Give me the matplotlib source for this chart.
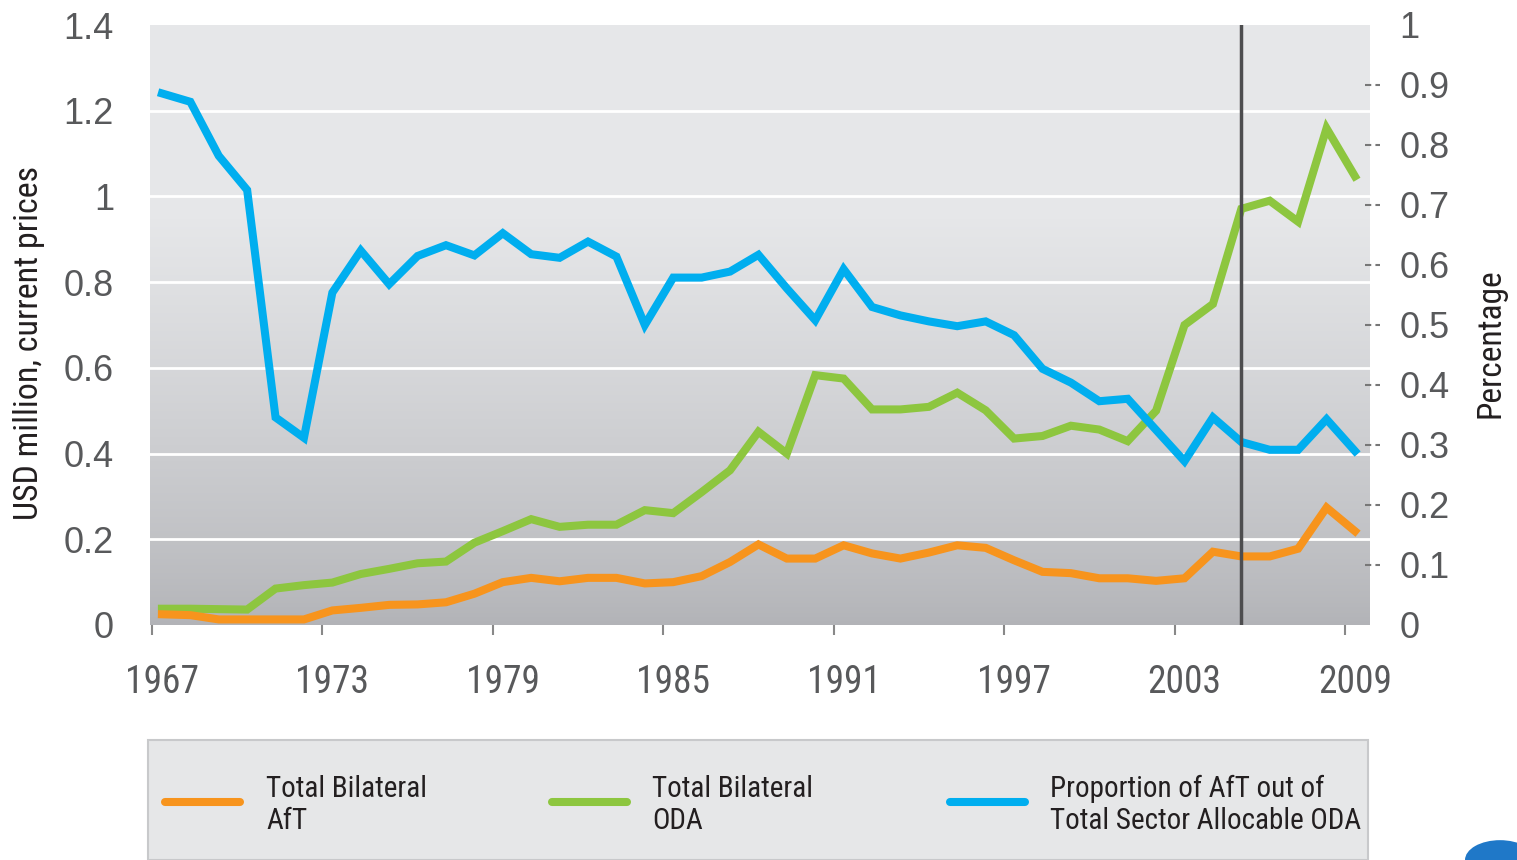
import matplotlib
matplotlib.use("Agg")
import matplotlib.pyplot as plt
from matplotlib import font_manager
from matplotlib.colors import to_rgb
from matplotlib.lines import Line2D
from matplotlib.patches import Rectangle, Circle
import numpy as np

# data
years = list(range(1967, 2010))
aft = [0.025, 0.023, 0.013, 0.013, 0.013, 0.013, 0.034, 0.040, 0.047, 0.048,
       0.053, 0.073, 0.100, 0.110, 0.102, 0.110, 0.110, 0.097, 0.100, 0.114,
       0.147, 0.188, 0.155, 0.155, 0.186, 0.167, 0.155, 0.169, 0.186, 0.180,
       0.151, 0.124, 0.121, 0.109, 0.109, 0.103, 0.109, 0.171, 0.160, 0.160,
       0.178, 0.274, 0.219]
oda = [0.038, 0.038, 0.037, 0.036, 0.085, 0.093, 0.099, 0.119, 0.131, 0.144,
       0.148, 0.192, 0.219, 0.247, 0.229, 0.234, 0.234, 0.268, 0.261, 0.310,
       0.361, 0.451, 0.400, 0.583, 0.575, 0.503, 0.503, 0.509, 0.542, 0.501,
       0.435, 0.441, 0.465, 0.456, 0.429, 0.500, 0.700, 0.749, 0.971, 0.990,
       0.941, 1.159, 1.047]
share = [0.886, 0.872, 0.782, 0.725, 0.346, 0.312, 0.554, 0.624, 0.568, 0.615,
         0.633, 0.616, 0.653, 0.618, 0.612, 0.639, 0.614, 0.500, 0.579, 0.579,
         0.589, 0.617, 0.561, 0.508, 0.593, 0.530, 0.516, 0.506, 0.498, 0.506,
         0.483, 0.427, 0.404, 0.373, 0.377, 0.325, 0.273, 0.346, 0.305, 0.292,
         0.292, 0.343, 0.290]
year_ticks = [1967, 1973, 1979, 1985, 1991, 1997, 2003, 2009]
left_ticks = [0, 0.2, 0.4, 0.6, 0.8, 1, 1.2, 1.4]
left_labels = ["0", "0.2", "0.4", "0.6", "0.8", "1", "1.2", "1.4"]
right_ticks = [0, 0.1, 0.2, 0.3, 0.4, 0.5, 0.6, 0.7, 0.8, 0.9, 1]
right_labels = ["0", "0.1", "0.2", "0.3", "0.4", "0.5", "0.6", "0.7", "0.8", "0.9", "1"]
marker_year = 2005
series_names = ["Total Bilateral\nAfT", "Total Bilateral\nODA",
                "Proportion of AfT out of\nTotal Sector Allocable ODA"]

ORANGE = "#f7941d"
GREEN = "#8dc63f"
BLUE = "#00aeef"
GREY_TXT = "#58595b"


def pick(names):
    for n in names:
        try:
            font_manager.findfont(n, fallback_to_default=False)
            return n
        except Exception:
            pass
    return "DejaVu Sans"


wide = pick(["Liberation Sans", "Arial"])
narrow = pick(["Liberation Sans Narrow", "Roboto Condensed", "Liberation Sans"])

W, H = 1517, 860
fig = plt.figure(figsize=(W / 100, H / 100), dpi=100)
fig.patch.set_facecolor("white")

ax = fig.add_axes([150 / W, (H - 625) / H, 1220 / W, 600 / H])
ax.set_xlim(1966.58, 2009.53)
ax.set_ylim(0, 1.4)

# grey background, darker towards the bottom
ys = np.linspace(0, 1.4, 300)
top = np.array(to_rgb("#e6e7e9"))
bot = np.array(to_rgb("#b2b3b7"))
t = np.clip(ys / 0.95, 0, 1) ** 0.8
grad = bot[None, :] * (1 - t[:, None]) + top[None, :] * t[:, None]
ax.imshow(grad[:, None, :], extent=[1966.58, 2009.53, 0, 1.4], origin="lower",
          aspect="auto", zorder=0)

for v in left_ticks[1:-1]:
    ax.axhline(v, color="white", lw=2, zorder=1)

ax.plot(years, oda, color=GREEN, lw=5.8, solid_joinstyle="miter", zorder=3)
ax.plot(years, aft, color=ORANGE, lw=5.8, solid_joinstyle="miter", zorder=3)

for s in ax.spines.values():
    s.set_visible(False)
ax.set_yticks(left_ticks)
ax.set_yticklabels(left_labels, fontsize=26, family=wide, color=GREY_TXT)
ax.tick_params(axis="y", length=0, pad=26)
ax.set_xticks(year_ticks)
ax.set_xticklabels([str(y) for y in year_ticks], fontsize=27,
                   family=narrow, color=GREY_TXT)
ax.tick_params(axis="x", length=0, pad=28)
ax.set_xticks([y - 0.35 for y in year_ticks], minor=True)
ax.tick_params(axis="x", which="minor", length=7, width=1.5, color="#888888",
               direction="out", pad=0)
ax.set_ylabel("USD million, current prices", fontsize=24.5,
              family=narrow, color="#231f20")
ax.yaxis.set_label_coords(-0.086, 0.47)

ax2 = ax.twinx()
ax2.set_ylim(0, 1)
ax2.plot(years, share, color=BLUE, lw=5.8, solid_joinstyle="miter", zorder=3)
ax2.axvline(marker_year, color="#4d4d4f", lw=2.5, zorder=5)
for s in ax2.spines.values():
    s.set_visible(False)
ax2.set_yticks(right_ticks)
ax2.set_yticklabels(right_labels, fontsize=26, family=wide, color=GREY_TXT)
ax2.tick_params(axis="y", length=0, pad=21)
for v in right_ticks[1:-1]:
    ax2.add_line(Line2D([0.996, 1.008], [v, v], transform=ax2.get_yaxis_transform(),
                        color="#777777", lw=1.5, dashes=(3, 2), clip_on=False))
ax2.set_ylabel("Percentage", fontsize=24, family=narrow, color="#231f20")
ax2.yaxis.set_label_coords(1.086, 0.47)

# legend box
fig.patches.append(Rectangle((148 / W, 0), 1220 / W, 120 / H, transform=fig.transFigure,
                             facecolor="#e6e7e8", edgecolor="#c8c9cb", lw=1.5))
legend_x = [(165, 266), (552, 652), (950, 1050)]
for (lx, tx), col, name in zip(legend_x, [ORANGE, GREEN, BLUE], series_names):
    fig.lines.append(Line2D([lx / W, (lx + 75) / W], [(H - 802) / H] * 2,
                            transform=fig.transFigure, color=col, lw=5.8,
                            solid_capstyle="round"))
    fig.text(tx / W, (H - 805) / H, name, fontsize=21, family=narrow,
             color="#231f20", va="center", ha="left", linespacing=1.15)

fig.patches.append(Circle((1500 / W, (H - 860) / H + 0.0), 35 / W,
                          transform=fig.transFigure, facecolor="#1f78c8",
                          edgecolor="none"))

fig.savefig("out.png", dpi=100)
